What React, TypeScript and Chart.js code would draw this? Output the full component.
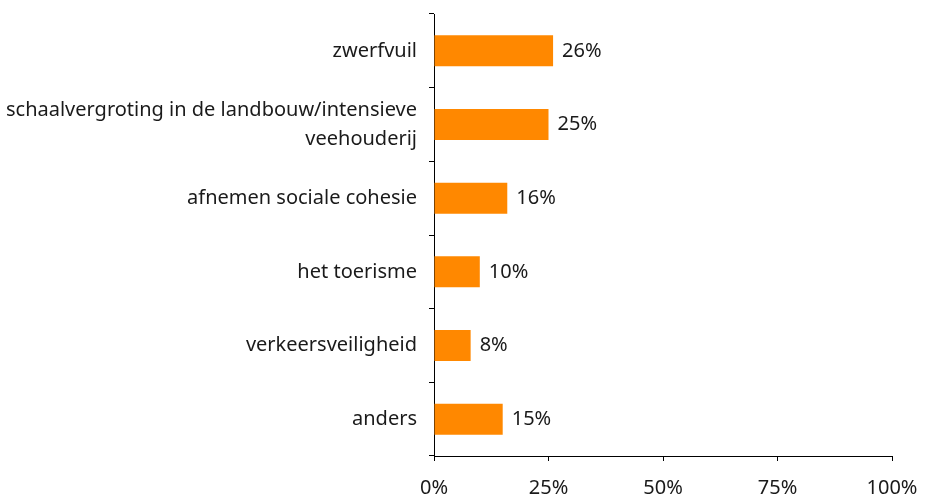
import React, { useEffect, useRef } from "react";
import { Chart, registerables } from "chart.js";

Chart.register(...registerables);

const categories: (string | string[])[] = [
  "zwerfvuil",
  ["schaalvergroting in de landbouw/intensieve", "veehouderij"],
  "afnemen sociale cohesie",
  "het toerisme",
  "verkeersveiligheid",
  "anders",
];
const values = [26, 25, 16, 10, 8, 15];
const xTicks = [0, 25, 50, 75, 100];

const FONT = "'Noto Sans', sans-serif";
const TEXT = "#1a1a1a";

const valueLabels = {
  id: "valueLabels",
  afterDatasetsDraw(chart: any) {
    const ctx = chart.ctx;
    const meta = chart.getDatasetMeta(0);
    ctx.save();
    ctx.font = `20px ${FONT}`;
    ctx.fillStyle = TEXT;
    ctx.textAlign = "left";
    ctx.textBaseline = "middle";
    meta.data.forEach((bar: any, i: number) => {
      ctx.fillText(`${values[i]}%`, bar.x + 9, bar.y);
    });
    ctx.restore();
  },
};

export default function App() {
  const ref = useRef<HTMLCanvasElement>(null);
  useEffect(() => {
    if (!ref.current) return;
    const chart = new Chart(ref.current, {
      type: "bar",
      data: {
        labels: categories,
        datasets: [
          {
            data: values,
            backgroundColor: "#FF8800",
            borderWidth: 0,
            categoryPercentage: 1,
            barPercentage: 0.42,
          },
        ],
      },
      options: {
        indexAxis: "y",
        animation: false,
        responsive: false,
        maintainAspectRatio: false,
        layout: { padding: { top: 14, right: 38, bottom: 0, left: 0 } },
        plugins: { legend: { display: false }, tooltip: { enabled: false } },
        scales: {
          x: {
            min: 0,
            max: 100,
            afterBuildTicks: (axis: any) => {
              axis.ticks = xTicks.map((v) => ({ value: v }));
            },
            afterFit: (axis: any) => {
              axis.height = 39;
              axis.paddingLeft = 0;
              axis.paddingRight = 0;
            },
            border: { display: true, color: "#000", width: 1 },
            grid: { display: true, drawOnChartArea: false, drawTicks: true, tickLength: 5, color: "#000" },
            ticks: {
              color: TEXT,
              font: { family: FONT, size: 20 },
              padding: 15,
              maxRotation: 0,
              callback: (v: any) => `${v}%`,
            },
          },
          y: {
            afterFit: (axis: any) => {
              axis.width = 434;
              axis.paddingTop = 0;
              axis.paddingBottom = 0;
            },
            border: { display: true, color: "#000", width: 1 },
            grid: { display: true, drawOnChartArea: false, drawTicks: true, tickLength: 5, color: "#000", offset: true },
            ticks: {
              color: TEXT,
              font: { family: FONT, size: 20, lineHeight: 1.45 },
              padding: 12,
            },
          },
        },
      },
      plugins: [valueLabels],
    });
    return () => chart.destroy();
  }, []);
  return (
    <div style={{ position: "fixed", left: 0, top: 0, width: 930, height: 495, background: "#fff" }}>
      <canvas ref={ref} width={930} height={495} style={{ width: 930, height: 495 }} />
    </div>
  );
}
